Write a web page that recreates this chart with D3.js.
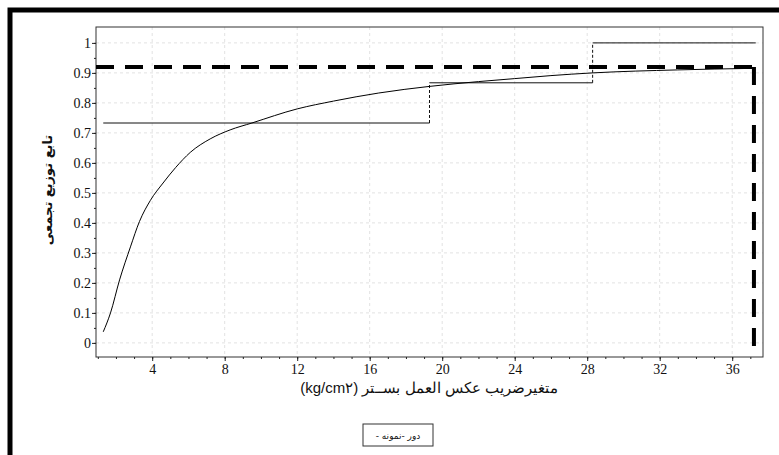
<!DOCTYPE html>
<meta charset="utf-8">
<style>
  body { margin: 0; background: #fff; }
  .tick text { font: 14px "Liberation Serif", serif; fill: #111; }
  .axis path, .axis line { stroke: #222; }
  .grid line { stroke: #e2e2e2; stroke-dasharray: 3,3; }
</style>
<svg width="779" height="455"></svg>
<script src="https://d3js.org/d3.v7.min.js"></script>
<script>

// fitted cumulative curve
var curveX = [1.3, 1.7, 2.2, 2.8, 3.3, 3.9, 4.6, 5.3, 6.1, 7.2, 8.3, 9.5, 12, 14, 16.5, 19.3, 22, 24, 26, 28.3, 33, 37];
var curveY = [0.037, 0.1, 0.21, 0.32, 0.405, 0.475, 0.533, 0.585, 0.635, 0.68, 0.71, 0.733, 0.78, 0.806, 0.833, 0.855, 0.871, 0.881, 0.891, 0.9, 0.91, 0.915];

// empirical steps
var stepX = [1.3, 19.3, 28.3, 37.3];
var stepY = [0.733, 0.867, 1.0];

// dashed reference lines
var refY = 0.92;
var refX = 37.2;

var xTicks = [4, 8, 12, 16, 20, 24, 28, 32, 36];
var yTicks = [0, 0.1, 0.2, 0.3, 0.4, 0.5, 0.6, 0.7, 0.8, 0.9, 1];

var svg = d3.select("svg");
var pLeft = 96, pTop = 27, pRight = 763, pBottom = 357;

var x = d3.scaleLinear().domain([0.9, 37.7]).range([pLeft, pRight]);
var y = d3.scaleLinear().domain([-0.047, 1.053]).range([pBottom, pTop]);

// outer frame
svg.append("rect").attr("x", 10).attr("y", 10).attr("width", 820).attr("height", 520)
  .attr("fill", "#fff").attr("stroke", "#000").attr("stroke-width", 5);

// grid
var grid = svg.append("g").attr("class", "grid");
grid.selectAll(".gx").data(xTicks).enter().append("line")
  .attr("x1", function(d) { return x(d); }).attr("x2", function(d) { return x(d); })
  .attr("y1", pTop).attr("y2", pBottom);
grid.selectAll(".gy").data(yTicks).enter().append("line")
  .attr("x1", pLeft).attr("x2", pRight)
  .attr("y1", function(d) { return y(d); }).attr("y2", function(d) { return y(d); });

// plot border
svg.append("rect").attr("x", pLeft).attr("y", pTop).attr("width", pRight - pLeft).attr("height", pBottom - pTop)
  .attr("fill", "none").attr("stroke", "#333").attr("stroke-width", 1);

// axes
svg.append("g").attr("class", "axis").attr("transform", "translate(0," + pBottom + ")")
  .call(d3.axisBottom(x).tickValues(d3.range(1, 38)).tickSize(2).tickFormat(""))
  .select(".domain").remove();
svg.append("g").attr("class", "axis").attr("transform", "translate(0," + pBottom + ")")
  .call(d3.axisBottom(x).tickValues(xTicks).tickSize(4).tickPadding(3).tickFormat(d3.format("d")))
  .select(".domain").remove();
svg.append("g").attr("class", "axis").attr("transform", "translate(" + pLeft + ",0)")
  .call(d3.axisLeft(y).tickValues(d3.range(0, 1.01, 0.05)).tickSize(2).tickFormat(""))
  .select(".domain").remove();
svg.append("g").attr("class", "axis").attr("transform", "translate(" + pLeft + ",0)")
  .call(d3.axisLeft(y).tickValues(yTicks).tickSize(4).tickPadding(1).tickFormat(function(d) { return String(+d.toFixed(1)); }))
  .select(".domain").remove();

// empirical steps
var steps = svg.append("g");
stepY.forEach(function(v, i) {
  steps.append("line").attr("x1", x(stepX[i])).attr("x2", x(stepX[i + 1]))
    .attr("y1", y(v)).attr("y2", y(v)).attr("stroke", "#111").attr("stroke-width", 1);
  if (i > 0) {
    steps.append("line").attr("x1", x(stepX[i])).attr("x2", x(stepX[i]))
      .attr("y1", y(stepY[i - 1])).attr("y2", y(v))
      .attr("stroke", "#111").attr("stroke-width", 1).attr("stroke-dasharray", "3,2");
  }
});

// curve
var line = d3.line().curve(d3.curveMonotoneX)
  .x(function(d, i) { return x(curveX[i]); })
  .y(function(d) { return y(d); });
svg.append("path").datum(curveY).attr("d", line)
  .attr("fill", "none").attr("stroke", "#000").attr("stroke-width", 1);

// dashed reference
svg.append("line").attr("x1", pLeft).attr("x2", x(refX)).attr("y1", y(refY)).attr("y2", y(refY))
  .attr("stroke", "#000").attr("stroke-width", 4).attr("stroke-dasharray", "18,11");
svg.append("line").attr("x1", x(refX)).attr("x2", x(refX)).attr("y1", y(refY)).attr("y2", pBottom)
  .attr("stroke", "#000").attr("stroke-width", 4).attr("stroke-dasharray", "18,11");

// labels
svg.append("text").attr("transform", "translate(52,190) rotate(-90)")
  .attr("text-anchor", "middle").attr("direction", "rtl")
  .style("font", "bold 13px 'DejaVu Sans', sans-serif").attr("fill", "#111")
  .text("تابع توزیع تجمعی");

svg.append("text").attr("x", 429).attr("y", 393)
  .attr("text-anchor", "middle").attr("direction", "rtl")
  .style("font", "15px 'Liberation Sans', sans-serif").attr("fill", "#111")
  .text("متغیرضریب عکس العمل بســتر (kg/cm۲)");

// legend
svg.append("rect").attr("x", 363).attr("y", 424).attr("width", 70).attr("height", 22)
  .attr("fill", "#fff").attr("stroke", "#333").attr("stroke-width", 1);
svg.append("text").attr("x", 398).attr("y", 439)
  .attr("text-anchor", "middle").attr("direction", "rtl")
  .style("font", "9px 'DejaVu Sans', sans-serif").attr("fill", "#111")
  .text("دور -نمونه -");

</script>
